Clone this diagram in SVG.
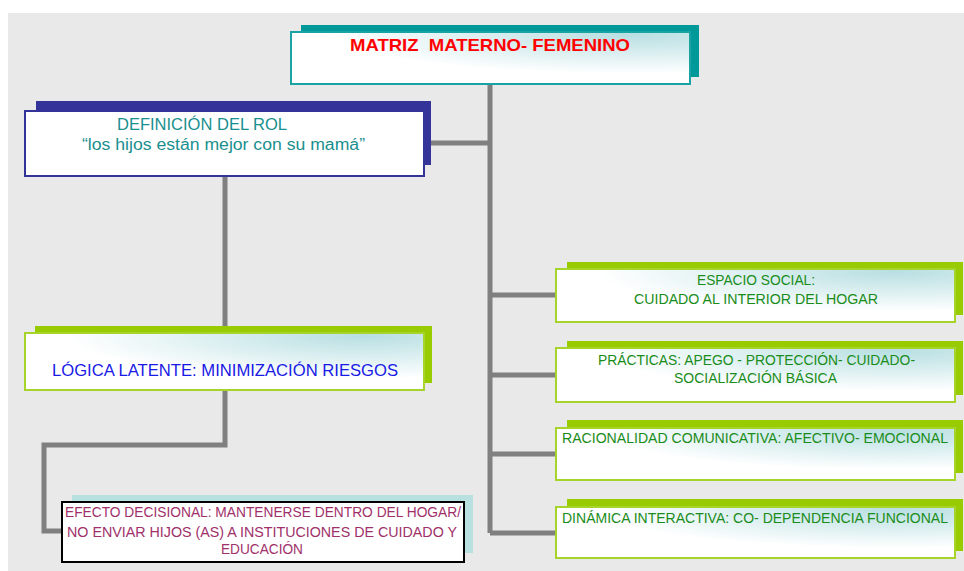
<svg xmlns="http://www.w3.org/2000/svg" width="964" height="571" viewBox="0 0 964 571">
<defs>
<radialGradient id="g" cx="0.85" cy="0.05" r="0.75">
<stop offset="0" stop-color="#B8DFE2"/>
<stop offset="1" stop-color="#FFFFFF"/>
</radialGradient>
<style>
text{font-family:"Liberation Sans",Arial,sans-serif;}
.conn{fill:none;stroke:#808080;stroke-width:5;stroke-linejoin:miter;}
.sg{fill:#99CC00;}
.bg{fill:url(#g);stroke:#A6D42A;stroke-width:2;}
.tg{fill:#1A8C1A;font-size:15px;}
.ts{fill:#1A8C1A;font-size:14px;}
</style>
</defs>
<rect x="8" y="13" width="956" height="558" fill="#E9E9E9"/>
<g id="connectors">
<path class="conn" d="M490,85 V533"/>
<path class="conn" d="M424,143 H490"/>
<path class="conn" d="M490,295 H556 M490,375 H556 M490,454 H556 M490,533 H556"/>
<path class="conn" d="M225,176 V333"/>
<path class="conn" d="M225,390 V445 H44 V531 H62"/>
</g>
<g id="title">
<rect x="301" y="25" width="398" height="52" fill="#009999"/>
<rect x="291" y="32" width="399" height="52" fill="url(#g)" stroke="#1AA3A3" stroke-width="2"/>
<text x="490" y="51" text-anchor="middle" font-weight="bold" font-size="17" fill="#FF0000" textLength="280" lengthAdjust="spacingAndGlyphs" xml:space="preserve">MATRIZ  MATERNO- FEMENINO</text>
</g>
<g id="definicion">
<rect x="36" y="101" width="395" height="64" fill="#333399"/>
<rect x="25" y="111" width="399" height="65" fill="#FFFFFF" stroke="#333399" stroke-width="2"/>
<text x="117" y="130" font-size="16" fill="#1A8F8F" textLength="170" lengthAdjust="spacingAndGlyphs">DEFINICIÓN DEL ROL</text>
<text x="82" y="150" font-size="16" fill="#1A8F8F" textLength="283" lengthAdjust="spacingAndGlyphs">“los hijos están mejor con su mamá”</text>
</g>
<g id="logica">
<rect x="35" y="326" width="397" height="57" class="sg"/>
<rect x="25" y="333" width="399" height="57" class="bg"/>
<text x="52" y="376" font-size="17" fill="#1A1AE6" textLength="346" lengthAdjust="spacingAndGlyphs">LÓGICA LATENTE: MINIMIZACIÓN RIESGOS</text>
</g>
<g id="efecto">
<rect x="72" y="495" width="401" height="58" fill="#B8E0E0"/>
<rect x="62" y="502" width="402" height="60" fill="#FFFFFF" stroke="#000000" stroke-width="2"/>
<text x="65" y="517" font-size="14" fill="#A0306A" textLength="396" lengthAdjust="spacingAndGlyphs">EFECTO DECISIONAL: MANTENERSE DENTRO DEL HOGAR/</text>
<text x="67" y="537" font-size="14" fill="#A0306A" textLength="390" lengthAdjust="spacingAndGlyphs">NO ENVIAR HIJOS (AS) A INSTITUCIONES DE CUIDADO Y</text>
<text x="262" y="554" font-size="14" fill="#A0306A" text-anchor="middle" textLength="82" lengthAdjust="spacingAndGlyphs">EDUCACIÓN</text>
</g>
<g id="espacio">
<rect x="567" y="262" width="396" height="53" class="sg"/>
<rect x="556" y="269" width="399" height="53" class="bg"/>
<text x="756" y="285" text-anchor="middle" class="tg" textLength="118" lengthAdjust="spacingAndGlyphs">ESPACIO SOCIAL:</text>
<text x="634" y="304" class="tg" textLength="244" lengthAdjust="spacingAndGlyphs">CUIDADO AL INTERIOR DEL HOGAR</text>
</g>
<g id="practicas">
<rect x="567" y="341" width="396" height="54" class="sg"/>
<rect x="556" y="348" width="399" height="54" class="bg"/>
<text x="598" y="365" class="tg" textLength="317" lengthAdjust="spacingAndGlyphs">PRÁCTICAS: APEGO - PROTECCIÓN- CUIDADO-</text>
<text x="674" y="383" class="tg" textLength="163" lengthAdjust="spacingAndGlyphs">SOCIALIZACIÓN BÁSICA</text>
</g>
<g id="racionalidad">
<rect x="567" y="420" width="396" height="53" class="sg"/>
<rect x="556" y="428" width="399" height="52" class="bg"/>
<text x="562" y="443" class="ts" textLength="386" lengthAdjust="spacingAndGlyphs">RACIONALIDAD COMUNICATIVA: AFECTIVO- EMOCIONAL</text>
</g>
<g id="dinamica">
<rect x="567" y="499" width="396" height="52" class="sg"/>
<rect x="556" y="507" width="399" height="51" class="bg"/>
<text x="562" y="523" class="ts" textLength="386" lengthAdjust="spacingAndGlyphs">DINÁMICA INTERACTIVA: CO- DEPENDENCIA FUNCIONAL</text>
</g>
</svg>
